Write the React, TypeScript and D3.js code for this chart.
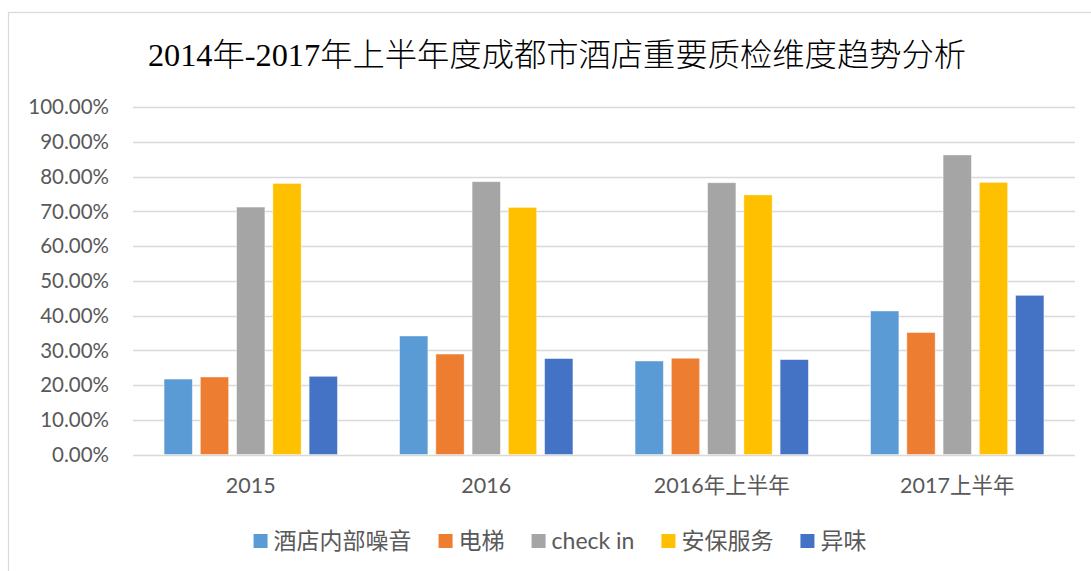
import React, { useEffect, useRef } from 'react';
import * as d3 from 'd3';

// categories, series and values
const categories = ['2015', '2016', '2016年上半年', '2017上半年'];
const seriesNames = ['酒店内部噪音', '电梯', 'check in', '安保服务', '异味'];
const seriesColors = ['#5B9BD5', '#ED7D31', '#A5A5A5', '#FFC000', '#4472C4'];
const noise = [0.217, 0.341, 0.269, 0.413];
const elevator = [0.223, 0.289, 0.277, 0.351];
const checkIn = [0.712, 0.785, 0.782, 0.862];
const security = [0.780, 0.711, 0.747, 0.783];
const smell = [0.225, 0.276, 0.273, 0.458];
const yTicks = [0, 0.1, 0.2, 0.3, 0.4, 0.5, 0.6, 0.7, 0.8, 0.9, 1];
const title = '2014年-2017年上半年度成都市酒店重要质检维度趋势分析';

const latin = 'Lato, "Noto Sans CJK SC", sans-serif';

const App = () => {
  const svgRef = useRef<SVGSVGElement>(null);

  useEffect(() => {
    const plot = { left: 133, right: 1075, top: 107, bottom: 454.5 };
    const values = [noise, elevator, checkIn, security, smell];

    const svg = d3.select(svgRef.current);
    svg.selectAll('*').remove();

    // chart frame
    svg.append('rect')
      .attr('x', 8.5).attr('y', 12.5)
      .attr('width', 1200).attr('height', 700)
      .attr('fill', '#fff')
      .attr('stroke', '#d9d9d9')
      .attr('stroke-width', 1.2);

    svg.append('text')
      .attr('x', 557)
      .attr('y', 66)
      .attr('text-anchor', 'middle')
      .style('font-family', '"Liberation Serif", "Noto Sans CJK SC", serif')
      .style('font-size', '32.3px')
      .style('font-weight', 300)
      .style('fill', '#000')
      .text(title);

    const x0 = d3.scaleBand()
      .domain(categories)
      .range([plot.left, plot.right])
      .paddingInner(0.264)
      .paddingOuter(0.132);

    const x1 = d3.scaleBand()
      .domain(seriesNames)
      .range([0, x0.bandwidth()])
      .paddingInner(0.22)
      .paddingOuter(0);

    const y = d3.scaleLinear().domain([0, 1]).range([plot.bottom, plot.top]);

    // grid + y labels
    svg.append('g')
      .selectAll('line')
      .data(yTicks)
      .enter()
      .append('line')
      .attr('x1', plot.left)
      .attr('x2', plot.right)
      .attr('y1', (d) => Math.round(y(d)) + 0.5)
      .attr('y2', (d) => Math.round(y(d)) + 0.5)
      .attr('stroke', '#d9d9d9')
      .attr('stroke-width', 1.3);

    const yFmt = d3.format('.2%');
    svg.append('g')
      .selectAll('text')
      .data(yTicks)
      .enter()
      .append('text')
      .attr('x', 109)
      .attr('y', (d) => y(d))
      .attr('dy', '0.36em')
      .attr('text-anchor', 'end')
      .style('font-family', latin)
      .style('font-size', '20.5px')
      .style('fill', '#595959')
      .text((d) => yFmt(d));

    // bars
    const groups = svg.append('g')
      .selectAll('g')
      .data(categories)
      .enter()
      .append('g')
      .attr('transform', (d) => `translate(${x0(d)},0)`);

    groups.selectAll('rect')
      .data((d, i) => seriesNames.map((s, j) => ({ s, j, v: values[j][i] })))
      .enter()
      .append('rect')
      .attr('x', (d) => x1(d.s)!)
      .attr('y', (d) => y(d.v))
      .attr('width', x1.bandwidth())
      .attr('height', (d) => y(0) - y(d.v))
      .attr('fill', (d) => seriesColors[d.j])
      .attr('stroke', '#fff')
      .attr('stroke-opacity', 0.5)
      .attr('stroke-width', 0.8);

    // category labels
    svg.append('g')
      .selectAll('text')
      .data(categories)
      .enter()
      .append('text')
      .attr('x', (d) => x0(d)! + x0.bandwidth() / 2)
      .attr('y', 493)
      .attr('text-anchor', 'middle')
      .style('font-family', latin)
      .style('font-size', '21.5px')
      .style('fill', '#595959')
      .text((d) => d);

    // legend, measured then centred
    const legend = svg.append('g');
    let cursor = 0;
    seriesNames.forEach((name, i) => {
      const item = legend.append('g').attr('transform', `translate(${cursor},0)`);
      item.append('rect')
        .attr('x', 0).attr('y', 534)
        .attr('width', 14).attr('height', 14)
        .attr('fill', seriesColors[i]);
      const t = item.append('text')
        .attr('x', 20)
        .attr('y', 549)
        .style('font-family', latin)
        .style('font-size', '23px')
        .style('fill', '#595959')
        .text(name);
      const w = (t.node() as SVGTextElement).getComputedTextLength();
      cursor += 20 + w + 27;
    });
    const total = cursor - 27;
    legend.attr('transform', `translate(${560 - total / 2},0)`);
  }, []);

  return (
    <svg
      ref={svgRef}
      width={1091}
      height={571}
      style={{ position: 'absolute', left: 0, top: 0, background: '#fff' }}
    />
  );
};

export default App;
